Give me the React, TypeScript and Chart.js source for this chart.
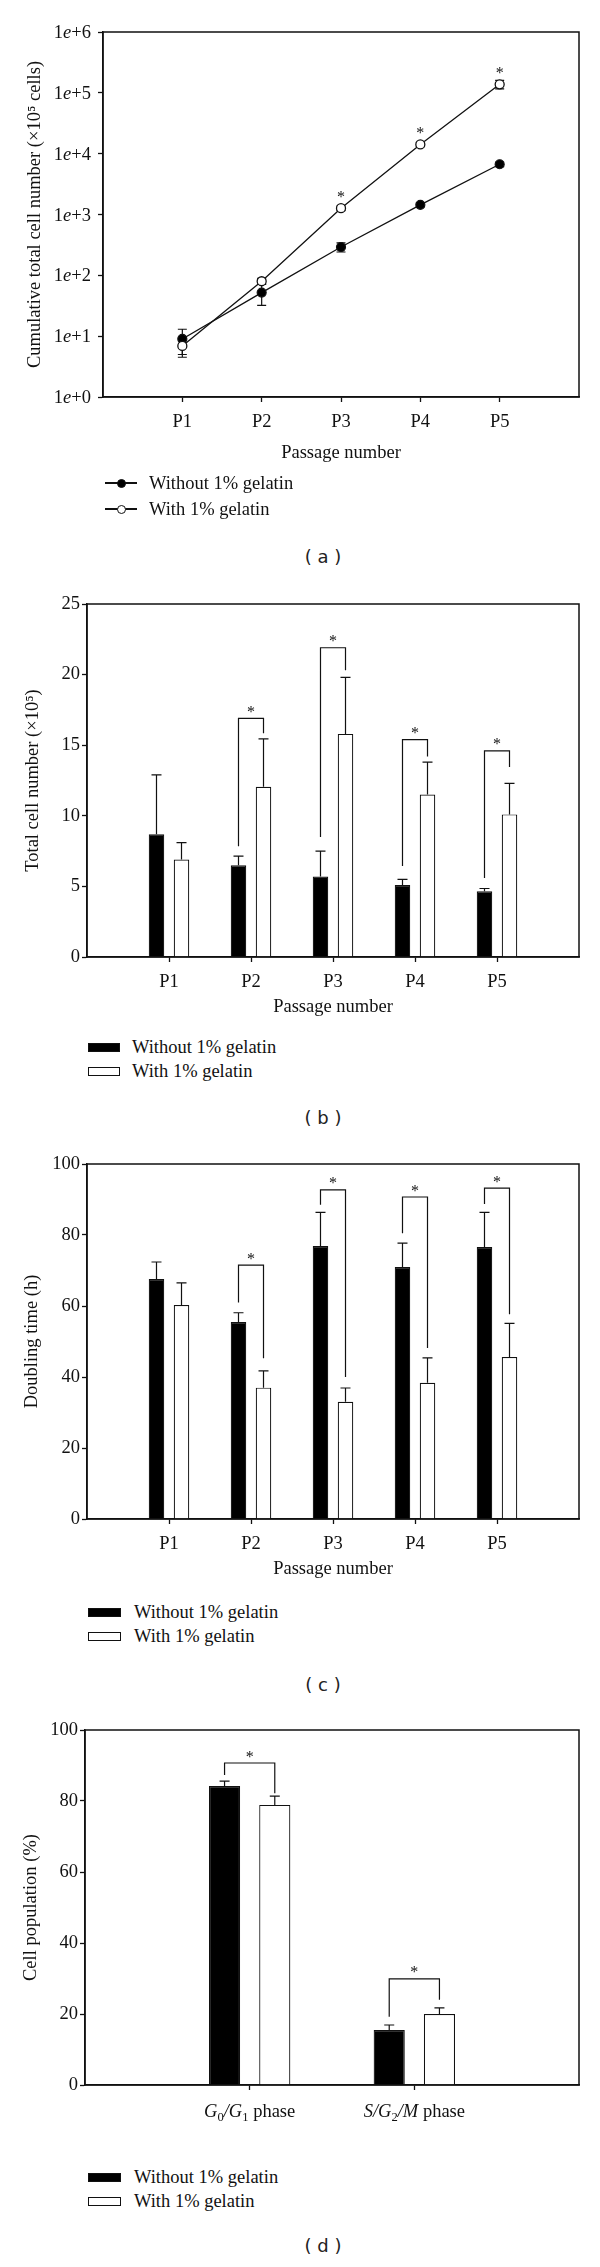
import React, { useEffect, useRef } from 'react';
import { Chart, registerables } from 'chart.js';

Chart.register(...registerables);

const SERIF = '"Liberation Serif", "DejaVu Serif", "Times New Roman", serif';
const SANS = '"DejaVu Sans", "Liberation Sans", sans-serif';
const FS = 18.5;
const INK = '#111111';
const AXIS_H = 75;
const PAD_TOP = 20;

// ---------------- data ----------------
const seriesNames = ['Without 1% gelatin', 'With 1% gelatin'];
const passageLabels = ['P1', 'P2', 'P3', 'P4', 'P5'];
const passagePositions = [1, 2, 3, 4, 5];

// (a) cumulative total cell number (x10^5 cells), log scale
const logTickValues = [1, 10, 100, 1000, 10000, 100000, 1000000];
const cumWithout = [9, 52, 292, 1440, 6700];
const cumWithoutErr = [4, 20, 50, 110, 600];
const cumWith = [6.9, 80, 1270, 14200, 138000];
const cumWithErr = [2.4, 9, 110, 1200, 22000];
const cumStars = [false, false, true, true, true];

// (b) total cell number (x10^5)
const totalWithout = [8.7, 6.5, 5.7, 5.1, 4.65];
const totalWithoutErr = [4.2, 0.65, 1.8, 0.4, 0.2];
const totalWith = [6.9, 12.05, 15.8, 11.5, 10.1];
const totalWithErr = [1.2, 3.4, 4.0, 2.3, 2.2];
const totalBracketIndex = [1, 2, 3, 4];
const totalBracketTop = [16.9, 21.9, 15.4, 14.6];
const totalBracketLeftEnd = [7.85, 8.5, 6.45, 5.6];
const totalBracketRightEnd = [15.85, 20.3, 14.2, 13.45];

// (c) doubling time (h)
const doubWithout = [67.6, 55.5, 76.9, 71.0, 76.6];
const doubWithoutErr = [4.8, 2.6, 9.5, 6.7, 9.8];
const doubWith = [60.3, 37.0, 33.0, 38.4, 45.6];
const doubWithErr = [6.2, 4.7, 3.9, 7.0, 9.5];
const doubBracketIndex = [1, 2, 3, 4];
const doubBracketTop = [71.5, 92.7, 90.7, 93.2];
const doubBracketLeftEnd = [61, 88.5, 80.5, 88.7];
const doubBracketRightEnd = [45.3, 40, 48.2, 57.7];

// (d) cell population (%)
const phaseLabels = ['G0/G1 phase', 'S/G2/M phase'];
const phasePositions = [1, 2];
const cellWithout = [84.2, 15.5];
const cellWithoutErr = [1.4, 1.4];
const cellWith = [78.9, 20.0];
const cellWithErr = [2.5, 1.7];
const cellBracketIndex = [0, 1];
const cellBracketTop = [90.7, 29.9];
const cellBracketLeftEnd = [87.3, 19.2];
const cellBracketRightEnd = [82.2, 24.0];

type Piece = { t: string; it?: boolean; sub?: boolean };
const phaseRich: Piece[][] = [
  [{ t: 'G', it: true }, { t: '0', sub: true }, { t: '/', it: true }, { t: 'G', it: true }, { t: '1', sub: true }, { t: ' phase' }],
  [{ t: 'S/G', it: true }, { t: '2', sub: true }, { t: '/M', it: true }, { t: ' phase' }],
];

// ---------------- geometry ----------------
const GEO = {
  a: { L: 103, R: 579, T: 32, B: 397 },
  b: { L: 87, R: 579, T: 604, B: 957 },
  c: { L: 87, R: 579, T: 1164, B: 1519 },
  d: { L: 85, R: 579, T: 1730, B: 2085 },
};

// ---------------- helpers ----------------
function fontFor(p: Piece, size: number) {
  return `${p.it ? 'italic ' : ''}${p.sub ? size * 0.68 : size}px ${SERIF}`;
}

function drawRich(ctx: CanvasRenderingContext2D, pieces: Piece[], x: number, y: number, align: string, size: number) {
  ctx.save();
  ctx.textBaseline = 'alphabetic';
  ctx.textAlign = 'left';
  ctx.fillStyle = INK;
  const widths = pieces.map((p) => {
    ctx.font = fontFor(p, size);
    return ctx.measureText(p.t).width;
  });
  const total = widths.reduce((a, b) => a + b, 0);
  let cx = align === 'center' ? x - total / 2 : align === 'right' ? x - total : x;
  const base = y + size * 0.33;
  pieces.forEach((p, i) => {
    ctx.font = fontFor(p, size);
    ctx.fillText(p.t, cx, base + (p.sub ? size * 0.22 : 0));
    cx += widths[i];
  });
  ctx.restore();
}

function drawStar(ctx: CanvasRenderingContext2D, x: number, yc: number) {
  ctx.save();
  ctx.fillStyle = INK;
  ctx.font = `16px ${SERIF}`;
  ctx.textAlign = 'center';
  ctx.textBaseline = 'alphabetic';
  ctx.fillText('*', x, yc + 7.5);
  ctx.restore();
}

function drawFrame(chart: any) {
  const { ctx, chartArea } = chart;
  ctx.save();
  ctx.strokeStyle = INK;
  ctx.lineWidth = 1.5;
  ctx.strokeRect(chartArea.left, chartArea.top, chartArea.right - chartArea.left, chartArea.bottom - chartArea.top);
  ctx.restore();
}

function yAxisBase(L: number, titleText: string, titleCenterX: number) {
  return {
    position: 'left',
    afterFit: (s: any) => {
      s.width = L;
    },
    grid: { display: true, drawOnChartArea: false, drawTicks: true, tickLength: 5, tickWidth: 1.3, tickColor: INK },
    border: { display: true, color: INK, width: 1.5 },
    title: {
      display: true,
      text: titleText,
      color: INK,
      font: { family: SERIF, size: FS, lineHeight: 1.2 },
      padding: { top: titleCenterX - FS * 0.6, bottom: 0 },
    },
  };
}

function xAxis(max: number, positions: number[], labels: string[], titleText: string | null, titleOffset: number, tickColor: string) {
  return {
    type: 'linear',
    position: 'bottom',
    min: 0,
    max,
    offset: false,
    afterFit: (s: any) => {
      s.height = AXIS_H;
    },
    afterBuildTicks: (s: any) => {
      s.ticks = positions.map((v) => ({ value: v }));
    },
    grid: { display: true, offset: false, drawOnChartArea: false, drawTicks: true, tickLength: 5, tickWidth: 1.3, tickColor: INK },
    border: { display: true, color: INK, width: 1.5 },
    ticks: {
      color: tickColor,
      font: { family: SERIF, size: FS },
      padding: 9,
      autoSkip: false,
      maxRotation: 0,
      minRotation: 0,
      callback: (_v: any, i: number) => labels[i],
    },
    title: titleText
      ? {
          display: true,
          text: titleText,
          color: INK,
          font: { family: SERIF, size: FS, lineHeight: 1.2 },
          padding: { top: 0, bottom: AXIS_H - FS * 0.6 - titleOffset },
        }
      : { display: false },
  };
}

function linearY(L: number, titleText: string, titleCenterX: number, max: number, step: number) {
  return {
    ...yAxisBase(L, titleText, titleCenterX),
    type: 'linear',
    min: 0,
    max,
    ticks: { color: INK, font: { family: SERIF, size: FS }, padding: 2, stepSize: step },
  };
}

function commonOptions(R: number) {
  return {
    responsive: false,
    animation: false,
    events: [],
    layout: { padding: { top: PAD_TOP, right: 600 - R, bottom: 0, left: 0 } },
    plugins: { legend: { display: false }, tooltip: { enabled: false } },
  };
}

// ---------------- chart builders ----------------
function buildCumulative() {
  const g = GEO.a;
  const opts: any = commonOptions(g.R);
  opts.scales = {
    x: xAxis(6, passagePositions, passageLabels, 'Passage number', 56, INK),
    y: {
      ...yAxisBase(g.L, 'Cumulative total cell number (×10⁵ cells)', 35),
      type: 'logarithmic',
      min: 1,
      max: 1000000,
      afterBuildTicks: (s: any) => {
        s.ticks = logTickValues.map((v) => ({ value: v }));
      },
      ticks: {
        color: 'rgba(0,0,0,0)',
        font: { family: SERIF, size: FS },
        padding: 7,
        callback: (v: any) => '1e+' + Math.round(Math.log10(Number(v))),
      },
    },
  };
  const errPlugin = {
    id: 'cumErr',
    beforeDatasetsDraw(chart: any) {
      const { ctx } = chart;
      const ys = chart.scales.y;
      const vals = [cumWithout, cumWith];
      const errs = [cumWithoutErr, cumWithErr];
      ctx.save();
      ctx.strokeStyle = INK;
      ctx.lineWidth = 1.2;
      [0, 1].forEach((d) => {
        const meta = chart.getDatasetMeta(d);
        meta.data.forEach((el: any, i: number) => {
          const x = el.x;
          const yt = ys.getPixelForValue(vals[d][i] + errs[d][i]);
          const yb = ys.getPixelForValue(Math.max(vals[d][i] - errs[d][i], 1.01));
          ctx.beginPath();
          ctx.moveTo(x, yb);
          ctx.lineTo(x, yt);
          ctx.moveTo(x - 4.5, yt);
          ctx.lineTo(x + 4.5, yt);
          ctx.moveTo(x - 4.5, yb);
          ctx.lineTo(x + 4.5, yb);
          ctx.stroke();
        });
      });
      ctx.restore();
    },
    afterDraw(chart: any) {
      const { ctx } = chart;
      const ys = chart.scales.y;
      drawFrame(chart);
      logTickValues.forEach((v) => {
        const py = ys.getPixelForValue(v);
        const n = Math.round(Math.log10(v));
        drawRich(ctx, [{ t: '1' }, { t: 'e', it: true }, { t: '+' + n }], chart.chartArea.left - 12, py, 'right', FS);
      });
      const meta = chart.getDatasetMeta(1);
      cumStars.forEach((s, i) => {
        if (!s) return;
        const el = meta.data[i];
        drawStar(ctx, el.x, el.y - 14);
      });
    },
  };
  return {
    type: 'line',
    data: {
      datasets: [
        {
          label: seriesNames[0],
          data: cumWithout.map((v, i) => ({ x: passagePositions[i], y: v })),
          borderColor: INK,
          borderWidth: 1.3,
          pointRadius: 4.5,
          pointBackgroundColor: '#000',
          pointBorderColor: INK,
          pointBorderWidth: 1.2,
          fill: false,
          tension: 0,
          order: 1,
        },
        {
          label: seriesNames[1],
          data: cumWith.map((v, i) => ({ x: passagePositions[i], y: v })),
          borderColor: INK,
          borderWidth: 1.3,
          pointRadius: 4.5,
          pointBackgroundColor: '#fff',
          pointBorderColor: INK,
          pointBorderWidth: 1.3,
          fill: false,
          tension: 0,
          order: 0,
        },
      ],
    },
    options: opts,
    plugins: [errPlugin],
  };
}

function buildBars(
  g: { L: number; R: number; T: number; B: number },
  positions: number[],
  labels: string[],
  xMax: number,
  xTitle: string | null,
  yTitle: string,
  yTitleX: number,
  yMax: number,
  yStep: number,
  vWithout: number[],
  eWithout: number[],
  vWith: number[],
  eWith: number[],
  bIdx: number[],
  bTop: number[],
  bLeft: number[],
  bRight: number[],
  rich: Piece[][] | null
) {
  const opts: any = commonOptions(g.R);
  opts.scales = {
    x: xAxis(xMax, positions, labels, xTitle, 50.5, rich ? 'rgba(0,0,0,0)' : INK),
    y: linearY(g.L, yTitle, yTitleX, yMax, yStep),
  };
  const annot = {
    id: 'barAnnot',
    afterDatasetsDraw(chart: any) {
      const { ctx } = chart;
      const ys = chart.scales.y;
      const vals = [vWithout, vWith];
      const errs = [eWithout, eWith];
      ctx.save();
      ctx.strokeStyle = INK;
      ctx.lineWidth = 1.2;
      [0, 1].forEach((d) => {
        const meta = chart.getDatasetMeta(d);
        meta.data.forEach((el: any, i: number) => {
          const x = el.x;
          const yt = ys.getPixelForValue(vals[d][i] + errs[d][i]);
          ctx.beginPath();
          ctx.moveTo(x, el.y);
          ctx.lineTo(x, yt);
          ctx.moveTo(x - 5, yt);
          ctx.lineTo(x + 5, yt);
          ctx.stroke();
        });
      });
      const m0 = chart.getDatasetMeta(0);
      const m1 = chart.getDatasetMeta(1);
      bIdx.forEach((idx, k) => {
        const xl = m0.data[idx].x;
        const xr = m1.data[idx].x;
        const yt = ys.getPixelForValue(bTop[k]);
        ctx.beginPath();
        ctx.moveTo(xl, ys.getPixelForValue(bLeft[k]));
        ctx.lineTo(xl, yt);
        ctx.lineTo(xr, yt);
        ctx.lineTo(xr, ys.getPixelForValue(bRight[k]));
        ctx.stroke();
        drawStar(ctx, (xl + xr) / 2, yt - 9);
      });
      ctx.restore();
      drawFrame(chart);
    },
    afterDraw(chart: any) {
      if (!rich) return;
      const xs = chart.scales.x;
      positions.forEach((p, i) => {
        drawRich(chart.ctx, rich[i], xs.getPixelForValue(p), chart.chartArea.bottom + 25.5, 'center', FS);
      });
    },
  };
  return {
    type: 'bar',
    data: {
      datasets: [
        {
          label: seriesNames[0],
          data: vWithout.map((v, i) => ({ x: positions[i], y: v })),
          backgroundColor: '#000',
          borderColor: INK,
          borderWidth: 1.2,
          categoryPercentage: 0.61,
          barPercentage: 0.62,
        },
        {
          label: seriesNames[1],
          data: vWith.map((v, i) => ({ x: positions[i], y: v })),
          backgroundColor: '#fff',
          borderColor: INK,
          borderWidth: 1.2,
          categoryPercentage: 0.61,
          barPercentage: 0.62,
        },
      ],
    },
    options: opts,
    plugins: [annot],
  };
}

const buildTotal = () =>
  buildBars(GEO.b, passagePositions, passageLabels, 6, 'Passage number', 'Total cell number (×10⁵)', 33, 25, 5,
    totalWithout, totalWithoutErr, totalWith, totalWithErr,
    totalBracketIndex, totalBracketTop, totalBracketLeftEnd, totalBracketRightEnd, null);

const buildDoubling = () =>
  buildBars(GEO.c, passagePositions, passageLabels, 6, 'Passage number', 'Doubling time (h)', 32, 100, 20,
    doubWithout, doubWithoutErr, doubWith, doubWithErr,
    doubBracketIndex, doubBracketTop, doubBracketLeftEnd, doubBracketRightEnd, null);

const buildCell = () =>
  buildBars(GEO.d, phasePositions, phaseLabels, 3, null, 'Cell population (%)', 31, 100, 20,
    cellWithout, cellWithoutErr, cellWith, cellWithErr,
    cellBracketIndex, cellBracketTop, cellBracketLeftEnd, cellBracketRightEnd, phaseRich);

// ---------------- components ----------------
function Panel({ geo, build }: { geo: { T: number; B: number }; build: () => any }) {
  const ref = useRef<HTMLCanvasElement>(null);
  const top = geo.T - PAD_TOP;
  const height = PAD_TOP + (geo.B - geo.T) + AXIS_H;
  useEffect(() => {
    const chart = new Chart(ref.current as HTMLCanvasElement, build());
    return () => chart.destroy();
  }, [build]);
  return (
    <canvas
      ref={ref}
      width={600}
      height={height}
      style={{ position: 'absolute', left: 0, top, width: 600, height }}
    />
  );
}

function LegendRow({ y, kind, markerLeft, markerRight, textX, text }: any) {
  const textStyle: React.CSSProperties = {
    position: 'absolute',
    left: textX,
    top: y - 12,
    height: 24,
    lineHeight: '24px',
    fontFamily: SERIF,
    fontSize: FS,
    color: INK,
    whiteSpace: 'nowrap',
  };
  const w = markerRight - markerLeft;
  let marker: React.ReactNode;
  if (kind === 'lineFilled' || kind === 'lineOpen') {
    const cx = (markerLeft + markerRight) / 2;
    marker = (
      <>
        <div style={{ position: 'absolute', left: markerLeft, top: y - 0.65, width: w, height: 1.3, background: INK }} />
        <div
          style={{
            position: 'absolute',
            left: cx - 4.5,
            top: y - 4.5,
            width: 9,
            height: 9,
            borderRadius: '50%',
            boxSizing: 'border-box',
            border: `1.3px solid ${INK}`,
            background: kind === 'lineFilled' ? '#000' : '#fff',
          }}
        />
      </>
    );
  } else {
    marker = (
      <div
        style={{
          position: 'absolute',
          left: markerLeft,
          top: y - 4.5,
          width: w,
          height: 9,
          boxSizing: 'border-box',
          border: `1.2px solid ${INK}`,
          background: kind === 'rectFilled' ? '#000' : '#fff',
        }}
      />
    );
  }
  return (
    <>
      {marker}
      <div style={textStyle}>{text}</div>
    </>
  );
}

function PanelLabel({ y, text }: { y: number; text: string }) {
  return (
    <div
      style={{
        position: 'absolute',
        left: 273,
        width: 100,
        top: y - 12,
        height: 24,
        lineHeight: '24px',
        textAlign: 'center',
        fontFamily: SANS,
        fontSize: 18,
        color: '#222',
        whiteSpace: 'pre',
      }}
    >
      {text}
    </div>
  );
}

export default function App() {
  return (
    <div style={{ position: 'absolute', left: 0, top: 0, width: 600, height: 2267, background: '#fff', overflow: 'hidden' }}>
      <Panel geo={GEO.a} build={buildCumulative} />
      <LegendRow y={483} kind="lineFilled" markerLeft={105} markerRight={137} textX={149} text={seriesNames[0]} />
      <LegendRow y={509} kind="lineOpen" markerLeft={105} markerRight={137} textX={149} text={seriesNames[1]} />
      <PanelLabel y={557} text="( a )" />

      <Panel geo={GEO.b} build={buildTotal} />
      <LegendRow y={1047} kind="rectFilled" markerLeft={88} markerRight={120} textX={132} text={seriesNames[0]} />
      <LegendRow y={1071} kind="rectOpen" markerLeft={88} markerRight={120} textX={132} text={seriesNames[1]} />
      <PanelLabel y={1118} text="( b )" />

      <Panel geo={GEO.c} build={buildDoubling} />
      <LegendRow y={1612} kind="rectFilled" markerLeft={88} markerRight={121} textX={134} text={seriesNames[0]} />
      <LegendRow y={1636} kind="rectOpen" markerLeft={88} markerRight={121} textX={134} text={seriesNames[1]} />
      <PanelLabel y={1685} text="( c )" />

      <Panel geo={GEO.d} build={buildCell} />
      <LegendRow y={2177} kind="rectFilled" markerLeft={88} markerRight={121} textX={134} text={seriesNames[0]} />
      <LegendRow y={2201} kind="rectOpen" markerLeft={88} markerRight={121} textX={134} text={seriesNames[1]} />
      <PanelLabel y={2246} text="( d )" />
    </div>
  );
}
